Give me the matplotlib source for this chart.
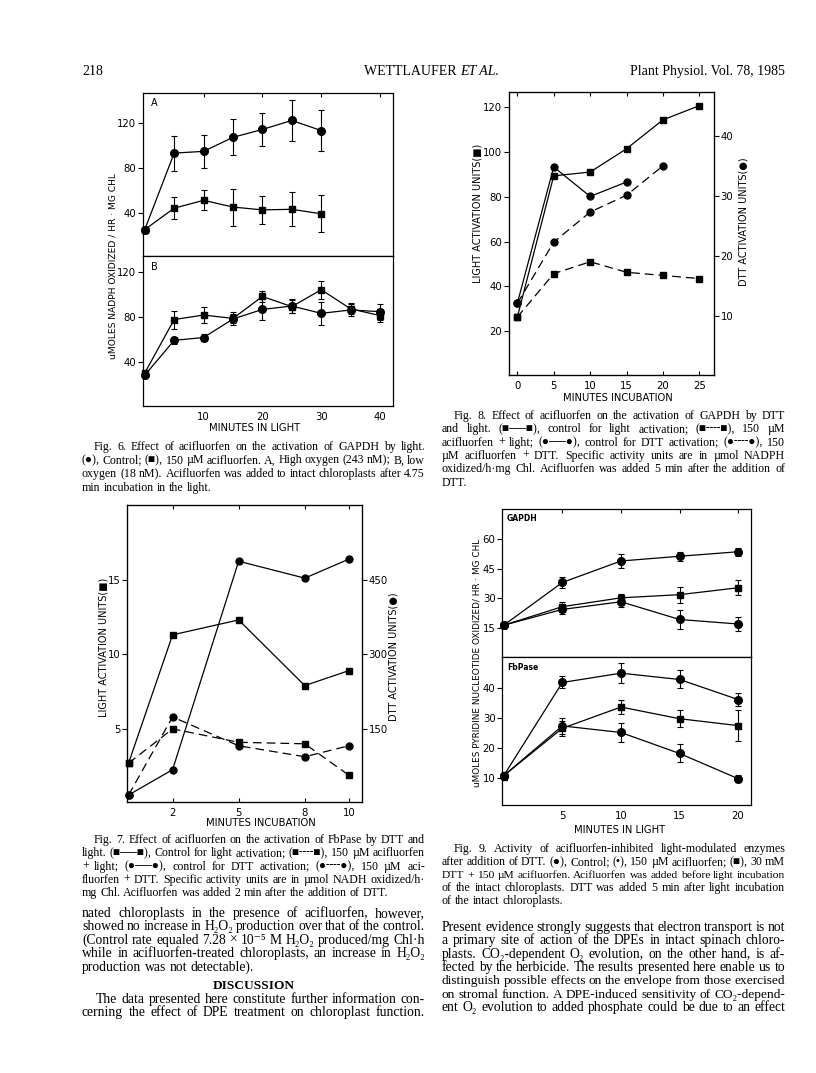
import matplotlib
matplotlib.use('Agg')
import matplotlib.pyplot as plt

# page size in pixels
W, H = 816, 1073
DPI = 100
plt.rcParams['font.family'] = ['DejaVu Sans']
SERIF = ['Liberation Serif', 'DejaVu Serif', 'DejaVu Sans']
SANS = ['DejaVu Sans']
TS = 7.3  # tick label size

# ---- data ----
# Fig 6 A, high oxygen
t6a = [0, 5, 10, 15, 20, 25, 30]
a_ctrl = [25, 93, 94.5, 107, 114, 122, 113]
a_ctrl_err = [2, 15.5, 15, 16, 14.5, 18, 18]
a_acif = [25, 44, 51, 45, 42.5, 43, 39]
a_acif_err = [2, 10, 9, 16.5, 12.5, 15, 16.5]
# Fig 6 B, low oxygen
t6b = [0, 5, 10, 15, 20, 25, 30, 35, 40]
b_ctrl = [28, 59, 61.5, 78, 86.5, 89.5, 83, 86, 84.5]
b_ctrl_err = [2, 3, 3, 4, 9, 6, 10, 5, 7]
b_acif = [30, 77.5, 81.5, 78.5, 98, 89, 104, 87, 81]
b_acif_err = [2, 8, 7.5, 5.5, 4.5, 6, 8, 5, 6]

# Fig 8
t8 = [0, 5, 10, 15, 20, 25]
light_ctrl8 = [26.3, 89.3, 91, 101.4, 114.3, 120.6]
light_acif8 = [26.3, 45.7, 51, 46.3, 44.9, 43.5]
t8_dtt_ctrl = [0, 5, 10, 15]
dtt_ctrl8 = [12.1, 34.8, 29.9, 32.3]
t8_dtt_acif = [0, 5, 10, 15, 20]
dtt_acif8 = [12.1, 22.3, 27.3, 30.1, 35]

# Fig 7
t7 = [0, 2, 5, 8, 10]
light_ctrl7 = [2.7, 11.3, 12.3, 7.9, 8.9]
light_acif7 = [2.7, 5.0, 4.1, 4.0, 1.9]
dtt_ctrl7 = [17, 68, 487, 453, 491]
dtt_acif7 = [17, 174, 116, 94, 116]

# Fig 9
t9 = [0, 5, 10, 15, 20]
g_ctrl = [16.4, 38.1, 49, 51.4, 53.7]
g_ctrl_err = [1.5, 2.9, 3.4, 2.4, 2]
g_dtt = [16.4, 25.8, 30.3, 31.9, 35.4]
g_dtt_err = [1.5, 2.5, 2, 4, 3.7]
g_acif = [16.4, 24.4, 28.3, 19.3, 17]
g_acif_err = [1.5, 2.5, 2.5, 5, 3.6]
f_ctrl = [10.7, 41.8, 44.9, 42.8, 36.1]
f_ctrl_err = [1.3, 2, 3.4, 3, 2.2]
f_dtt = [10.7, 26.5, 33.6, 29.7, 27.4]
f_dtt_err = [1.3, 2.6, 2.3, 2.8, 5.2]
f_acif = [10.7, 27.3, 25.1, 18.1, 9.7]
f_acif_err = [1.3, 2.6, 3.3, 3, 1.2]

fig = plt.figure(figsize=(W / DPI, H / DPI), dpi=DPI)
fig.patch.set_facecolor('white')
renderer = fig.canvas.get_renderer()


def box(l, t, r, b):
    return fig.add_axes([l / W, 1 - b / H, (r - l) / W, (b - t) / H])


def frame(ax, xt, yt, xlim, ylim, xlab=True, top=True, bottom=True):
    ax.set_xlim(xlim)
    ax.set_ylim(ylim)
    ax.set_xticks(xt)
    ax.set_yticks(yt)
    ax.tick_params(axis='y', direction='out', length=3.5, width=0.8, pad=1.2, labelsize=TS)
    ax.tick_params(axis='x', direction='in', length=3, width=0.8, top=top, bottom=bottom,
                   labelbottom=xlab, pad=4, labelsize=TS)
    for s in ax.spines.values():
        s.set_linewidth(0.9)


def draw(ax, x, y, err=None, m='o', dashed=False, ms=5.5):
    kw = dict(color='black', lw=0.9, marker=m, ms=ms, clip_on=False, zorder=3)
    if dashed:
        kw['dashes'] = (7, 4)
    ax.plot(x, y, **kw)
    if err is not None:
        ax.errorbar(x, y, yerr=err, fmt='none', ecolor='black', elinewidth=0.8,
                    capsize=2.3, capthick=0.8)


def label(x, y, s, size=7.0, rot=0, ha='center', **kw):
    fig.text(x / W, 1 - y / H, s, fontsize=size, rotation=rot, ha=ha, va='center',
             family=SANS, **kw)


# ---- Fig 6 ----
axA = box(143, 93, 393, 256)
frame(axA, [10, 20, 30, 40], [40, 80, 120], (-0.3, 42.2), (1.5, 146.4), xlab=False, bottom=False)
draw(axA, t6a, a_ctrl, a_ctrl_err, 'o')
draw(axA, t6a, a_acif, a_acif_err, 's', ms=5)
axB = box(143, 256, 393, 406)
frame(axB, [10, 20, 30, 40], [40, 80, 120], (-0.3, 42.2), (0.6, 134), top=False)
axB.tick_params(axis='x', length=0)
draw(axB, t6b, b_ctrl, b_ctrl_err, 'o')
draw(axB, t6b, b_acif, b_acif_err, 's', ms=5)
label(154, 103, 'A', 7)
label(154, 267, 'B', 7)
label(255, 428, 'MINUTES IN LIGHT', 7.2)
label(113, 266, 'uMOLES NADPH OXIDIZED / HR \u00b7 MG CHL', 6.6, rot=90)

# ---- Fig 8 ----
ax8 = box(509, 92, 714, 375)
frame(ax8, [0, 5, 10, 15, 20, 25], [20, 40, 60, 80, 100, 120], (-1.14, 27), (0.5, 126.7))
ax8r = ax8.twinx()
ax8r.set_ylim(0.5 / 2.68, 126.7 / 2.68)
ax8r.set_yticks([10, 20, 30, 40])
ax8r.tick_params(axis='y', direction='out', length=3.5, width=0.8, pad=1.2, labelsize=TS)
draw(ax8, t8, light_ctrl8, m='s', ms=5)
draw(ax8, t8, light_acif8, m='s', dashed=True, ms=5)
draw(ax8r, t8_dtt_ctrl, dtt_ctrl8, m='o', ms=5)
draw(ax8r, t8_dtt_acif, dtt_acif8, m='o', dashed=True, ms=5)
label(618, 398, 'MINUTES INCUBATION', 7.2)
label(477, 213, 'LIGHT ACTIVATION UNITS(\u25a0)', 7.0, rot=90)
label(743, 222, 'DTT ACTIVATION UNITS(\u25cf)', 7.0, rot=90)

# ---- Fig 7 ----
ax7 = box(127, 505, 362, 802)
frame(ax7, [2, 5, 8, 10], [5, 10, 15], (-0.07, 10.6), (0.1, 20))
ax7r = ax7.twinx()
ax7r.set_ylim(3, 600)
ax7r.set_yticks([150, 300, 450])
ax7r.tick_params(axis='y', direction='out', length=3.5, width=0.8, pad=1.2, labelsize=TS)
draw(ax7, t7, light_ctrl7, m='s', ms=5)
draw(ax7, t7, light_acif7, m='s', dashed=True, ms=5)
draw(ax7r, t7, dtt_ctrl7, m='o', ms=5)
draw(ax7r, t7, dtt_acif7, m='o', dashed=True, ms=5)
label(261, 823, 'MINUTES INCUBATION', 7.2)
label(103, 647, 'LIGHT ACTIVATION UNITS(\u25a0)', 7.0, rot=90)
label(393, 657, 'DTT ACTIVATION UNITS(\u25cf)', 7.0, rot=90)

# ---- Fig 9 ----
axG = box(502, 509, 751, 657)
frame(axG, [5, 10, 15, 20], [15, 30, 45, 60], (-0.15, 21.1), (0.25, 75.4), xlab=False, bottom=False)
draw(axG, t9, g_ctrl, g_ctrl_err, 'o')
draw(axG, t9, g_dtt, g_dtt_err, 's', ms=5)
draw(axG, t9, g_acif, g_acif_err, 'o')
axF = box(502, 657, 751, 805)
frame(axF, [5, 10, 15, 20], [10, 20, 30, 40], (-0.15, 21.1), (0.9, 50.3), top=False)
axF.tick_params(axis='x', length=0)
draw(axF, t9, f_ctrl, f_ctrl_err, 'o')
draw(axF, t9, f_dtt, f_dtt_err, 's', ms=5)
draw(axF, t9, f_acif, f_acif_err, 'o')
label(507, 518, 'GAPDH', 5.5, ha='left', weight='bold')
label(507, 667, 'FbPase', 5.5, ha='left', weight='bold')
label(620, 830, 'MINUTES IN LIGHT', 7.2)
label(477, 663, 'uMOLES PYRIDINE NUCLEOTIDE OXIDIZED/ HR \u00b7 MG CHL', 6.4, rot=90)


# ---- justified text ----
def para(lines, x0, x1, y0, dy, size, indent=0.0, last_full=False):
    for i, line in enumerate(lines):
        words = line.split()
        start = x0 + (indent if i == 0 else 0)
        avail = x1 - start
        y = y0 + i * dy
        texts = [fig.text(0, 0, w, fontsize=size, family=SERIF, va='baseline') for w in words]
        sp = 0.25 * size * DPI / 72
        widths = [t.get_window_extent(renderer).width for t in texts]
        fs = size
        while sum(widths) + 0.75 * sp * (len(words) - 1) > avail and fs > size * 0.8:
            fs *= 0.98
            for t in texts:
                t.set_fontsize(fs)
            widths = [t.get_window_extent(renderer).width for t in texts]
        justify = (i < len(lines) - 1) or last_full
        if justify and len(words) > 1:
            gap = (avail - sum(widths)) / (len(words) - 1)
        else:
            gap = sp
        x = start
        for t, w in zip(texts, widths):
            t.set_position((x / W, 1 - y / H))
            x += w + gap


LX0, LX1 = 82, 425
RX0, RX1 = 442, 785
CS = 8.6   # caption size
BS = 9.8   # body size

cap6 = [
    'Fig. 6. Effect of acifluorfen on the activation of GAPDH by light.',
    '(\u25cf), Control; (\u25a0), 150 \u00b5M acifluorfen. A, High oxygen (243 nM); B, low',
    'oxygen (18 nM). Acifluorfen was added to intact chloroplasts after 4.75',
    'min incubation in the light.',
]
para(cap6, LX0, LX1, 450, 13.5, CS, indent=12)

cap8 = [
    'Fig. 8. Effect of acifluorfen on the activation of GAPDH by DTT',
    'and light. (\u25a0\u2500\u2500\u25a0), control for light activation; (\u25a0\u254c\u254c\u25a0), 150 \u00b5M',
    'acifluorfen + light; (\u25cf\u2500\u2500\u25cf), control for DTT activation; (\u25cf\u254c\u254c\u25cf), 150',
    '\u00b5M acifluorfen + DTT. Specific activity units are in \u00b5mol NADPH',
    'oxidized/h\u00b7mg Chl. Acifluorfen was added 5 min after the addition of',
    'DTT.',
]
para(cap8, RX0, RX1, 419, 13.3, CS, indent=12)

cap7 = [
    'Fig. 7. Effect of acifluorfen on the activation of FbPase by DTT and',
    'light. (\u25a0\u2500\u2500\u25a0), Control for light activation; (\u25a0\u254c\u254c\u25a0), 150 \u00b5M acifluorfen',
    '+ light; (\u25cf\u2500\u2500\u25cf), control for DTT activation; (\u25cf\u254c\u254c\u25cf), 150 \u00b5M aci-',
    'fluorfen + DTT. Specific activity units are in \u00b5mol NADH oxidized/h\u00b7',
    'mg Chl. Acifluorfen was added 2 min after the addition of DTT.',
]
para(cap7, LX0, LX1, 843, 13.3, CS, indent=12)

cap9 = [
    'Fig. 9. Activity of acifluorfen-inhibited light-modulated enzymes',
    'after addition of DTT. (\u25cf), Control; (\u2022), 150 \u00b5M acifluorfen; (\u25a0), 30 mM',
    'DTT + 150 \u00b5M acifluorfen. Acifluorfen was added before light incubation',
    'of the intact chloroplasts. DTT was added 5 min after light incubation',
    'of the intact chloroplasts.',
]
para(cap9, RX0, RX1, 852, 13.1, CS, indent=12)

body_left = [
    'nated chloroplasts in the presence of acifluorfen, however,',
    'showed no increase in H\u2082O\u2082 production over that of the control.',
    '(Control rate equaled 7.28 \u00d7 10\u207b\u2075 M H\u2082O\u2082 produced/mg Chl\u00b7h',
    'while in acifluorfen-treated chloroplasts, an increase in H\u2082O\u2082',
    'production was not detectable).',
]
para(body_left, LX0, LX1, 917, 13.4, BS)
fig.text(253.5 / W, 1 - 989 / H, 'DISCUSSION', fontsize=9.6, family=SERIF, weight='bold',
         ha='center', va='baseline')
body_left2 = [
    'The data presented here constitute further information con-',
    'cerning the effect of DPE treatment on chloroplast function.',
]
para(body_left2, LX0, LX1, 1003, 13.2, BS, indent=14, last_full=True)

body_right = [
    'Present evidence strongly suggests that electron transport is not',
    'a primary site of action of the DPEs in intact spinach chloro-',
    'plasts. CO\u2082-dependent O\u2082 evolution, on the other hand, is af-',
    'fected by the herbicide. The results presented here enable us to',
    'distinguish possible effects on the envelope from those exercised',
    'on stromal function. A DPE-induced sensitivity of CO\u2082-depend-',
    'ent O\u2082 evolution to added phosphate could be due to an effect',
]
para(body_right, RX0, RX1, 931, 13.33, BS, last_full=True)

# ---- running head ----
fig.text(82 / W, 1 - 75 / H, '218', fontsize=10, family=SERIF, va='baseline', ha='left')
fig.text(785 / W, 1 - 75 / H, 'Plant Physiol. Vol. 78, 1985', fontsize=10, family=SERIF,
         va='baseline', ha='right')
h1 = fig.text(0, 1 - 75 / H, 'WETTLAUFER ', fontsize=10, family=SERIF, va='baseline')
h2 = fig.text(0, 1 - 75 / H, 'ET AL.', fontsize=10, family=SERIF, va='baseline', style='italic')
w1 = h1.get_window_extent(renderer).width
w2 = h2.get_window_extent(renderer).width
hx = 432 - (w1 + w2) / 2
h1.set_x(hx / W)
h2.set_x((hx + w1) / W)

fig.savefig('out.png', dpi=DPI, facecolor='white')
